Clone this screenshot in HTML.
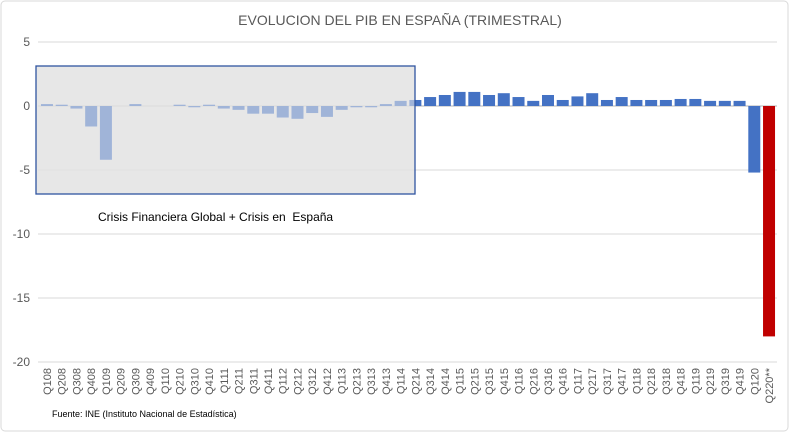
<!DOCTYPE html>
<html><head><meta charset="utf-8"><style>
body{margin:0;background:#fff;width:800px;height:437px;overflow:hidden}
svg{display:block;font-family:"Liberation Sans",sans-serif}
</style></head><body>
<svg id="c" width="800" height="437">
<rect x="1" y="1" width="787" height="430" rx="4" fill="#fff" stroke="#d9d9d9"/>
<text x="400" y="25" text-anchor="middle" font-size="14" fill="#595959">EVOLUCION DEL PIB EN ESPAÑA (TRIMESTRAL)</text>
<rect x="36" y="66" width="379" height="128" fill="#e7e7e7"/>
<g id="grid"></g><g id="bars"></g><g id="ylab"></g><g id="xlab"></g>
<rect x="36" y="66" width="379" height="128" fill="rgba(231,231,231,0.56)" stroke="#2f54a0" stroke-width="1.3"/>
<text x="98" y="221" font-size="12" fill="#000" style="white-space:pre">Crisis Financiera Global + Crisis en  España</text>
<text x="52" y="417" font-size="9" fill="#000">Fuente: INE (Instituto Nacional de Estadística)</text>
</svg>
<script>
const categories=["Q108","Q208","Q308","Q408","Q109","Q209","Q309","Q409","Q110","Q210","Q310","Q410","Q111","Q211","Q311","Q411","Q112","Q212","Q312","Q412","Q113","Q213","Q313","Q413","Q114","Q214","Q314","Q414","Q115","Q215","Q315","Q415","Q116","Q216","Q316","Q416","Q117","Q217","Q317","Q417","Q118","Q218","Q318","Q418","Q119","Q219","Q319","Q419","Q120","Q220**"];
const values=[0.15,0.1,-0.2,-1.6,-4.2,0,0.15,0,0,0.1,-0.1,0.1,-0.2,-0.3,-0.6,-0.6,-0.9,-1.0,-0.55,-0.85,-0.3,-0.1,-0.1,0.15,0.4,0.47,0.7,0.86,1.1,1.1,0.86,1.0,0.7,0.4,0.86,0.47,0.75,1.0,0.47,0.7,0.47,0.47,0.47,0.55,0.55,0.4,0.4,0.4,-5.2,-18];
const yTicks=[5,0,-5,-10,-15,-20];
const NS="http://www.w3.org/2000/svg";
const x0=39.6,x1=776.4,band=(x1-x0)/categories.length;
const y=v=>106-v*12.8;
const xc=i=>x0+band*(i+0.5);
function mk(t,a,p){const e=document.createElementNS(NS,t);for(const k in a)e.setAttribute(k,a[k]);p.appendChild(e);return e;}
const g=document.getElementById('grid'),yl=document.getElementById('ylab'),b=document.getElementById('bars'),xl=document.getElementById('xlab');
yTicks.forEach(t=>{
const l=mk('line',{x1:38,x2:777,y1:y(t),y2:y(t),stroke:'#d9d9d9','stroke-width':t===0?2:1},g);


const tx=mk('text',{x:30,y:y(t)+4,'text-anchor':'end','font-size':12,fill:'#595959'},yl);
tx.textContent=t;


});
values.forEach((v,i)=>{
const top=Math.min(y(v),y(0)),h=Math.abs(y(v)-y(0));
const r=mk('rect',{x:xc(i)-6,y:top,width:12,height:h,fill:i===values.length-1?'#c00000':'#4472c4'},b);


const t=mk('text',{transform:`translate(${xc(i)+4},368) rotate(-90)`,'text-anchor':'end','font-size':11,fill:'#595959'},xl);
t.textContent=categories[i];


});
</script>
</body></html>
